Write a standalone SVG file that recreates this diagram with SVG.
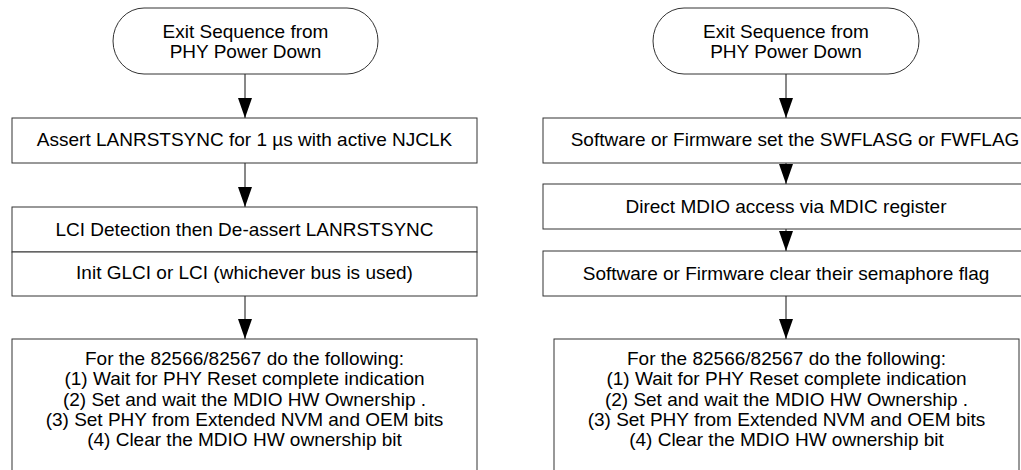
<svg xmlns="http://www.w3.org/2000/svg" width="1021" height="470" viewBox="0 0 1021 470">
<style>
.box{fill:#fff;stroke:#333;stroke-width:1}
.t{font-family:"Liberation Sans",Arial,sans-serif;font-size:19px;fill:#000;text-anchor:middle}
.c{stroke:#111;stroke-width:1;fill:none;marker-end:url(#ah)}
</style>
<defs>
<marker id="ah" markerUnits="userSpaceOnUse" markerWidth="20" markerHeight="14" refX="20" refY="7" orient="auto">
<path d="M0,0 L20,7 L0,14 z" fill="#000"/>
</marker>
</defs>
<rect width="1021" height="470" fill="#fff"/>
<g id="connectors">
<line class="c" x1="245" y1="74" x2="245" y2="118"/>
<line class="c" x1="245" y1="163" x2="245" y2="207"/>
<line class="c" x1="245" y1="296" x2="245" y2="339"/>
<line class="c" x1="786" y1="74" x2="786" y2="118"/>
<line class="c" x1="786" y1="163" x2="786" y2="184"/>
<line class="c" x1="786" y1="229" x2="786" y2="251"/>
<line class="c" x1="786" y1="296" x2="786" y2="339"/>
</g>
<g id="L_start">
<rect class="box" x="113" y="8" width="265" height="66" rx="31" ry="33"/>
<text class="t" x="245.5" y="38">Exit Sequence from</text>
<text class="t" x="245.5" y="58">PHY Power Down</text>
</g>
<g id="L_assert">
<rect class="box" x="12" y="118" width="465" height="45"/>
<text class="t" x="244.5" y="146">Assert LANRSTSYNC for 1 µs with active NJCLK</text>
</g>
<g id="L_lci">
<rect class="box" x="12" y="207" width="465" height="45"/>
<text class="t" x="244.5" y="236">LCI Detection then De-assert LANRSTSYNC</text>
</g>
<g id="L_init">
<rect class="box" x="12" y="252" width="465" height="44"/>
<text class="t" x="244.5" y="279">Init GLCI or LCI (whichever bus is used)</text>
</g>
<g id="L_phy">
<rect class="box" x="12" y="339" width="465" height="140"/>
<text class="t" x="244.5" y="365">For the 82566/82567 do the following:</text>
<text class="t" x="244.5" y="385">(1) Wait for PHY Reset complete indication</text>
<text class="t" x="244.5" y="405.5">(2) Set and wait the MDIO HW Ownership .</text>
<text class="t" x="244.5" y="425.5">(3) Set PHY from Extended NVM and OEM bits</text>
<text class="t" x="244.5" y="445.5">(4) Clear the MDIO HW ownership bit</text>
</g>
<g id="R_start">
<rect class="box" x="653" y="8" width="266" height="66" rx="31" ry="33"/>
<text class="t" x="786" y="38">Exit Sequence from</text>
<text class="t" x="786" y="58">PHY Power Down</text>
</g>
<g id="R_set">
<rect class="box" x="543" y="118" width="486" height="45"/>
<text class="t" x="795" y="146">Software or Firmware set the SWFLASG or FWFLAG</text>
</g>
<g id="R_mdio">
<rect class="box" x="543" y="184" width="486" height="45"/>
<text class="t" x="786" y="213">Direct MDIO access via MDIC register</text>
</g>
<g id="R_clear">
<rect class="box" x="543" y="251" width="486" height="45"/>
<text class="t" x="786" y="280">Software or Firmware clear their semaphore flag</text>
</g>
<g id="R_phy">
<rect class="box" x="554" y="339" width="465" height="140"/>
<text class="t" x="786.5" y="365">For the 82566/82567 do the following:</text>
<text class="t" x="786.5" y="385">(1) Wait for PHY Reset complete indication</text>
<text class="t" x="786.5" y="405.5">(2) Set and wait the MDIO HW Ownership .</text>
<text class="t" x="786.5" y="425.5">(3) Set PHY from Extended NVM and OEM bits</text>
<text class="t" x="786.5" y="445.5">(4) Clear the MDIO HW ownership bit</text>
</g>
</svg>
